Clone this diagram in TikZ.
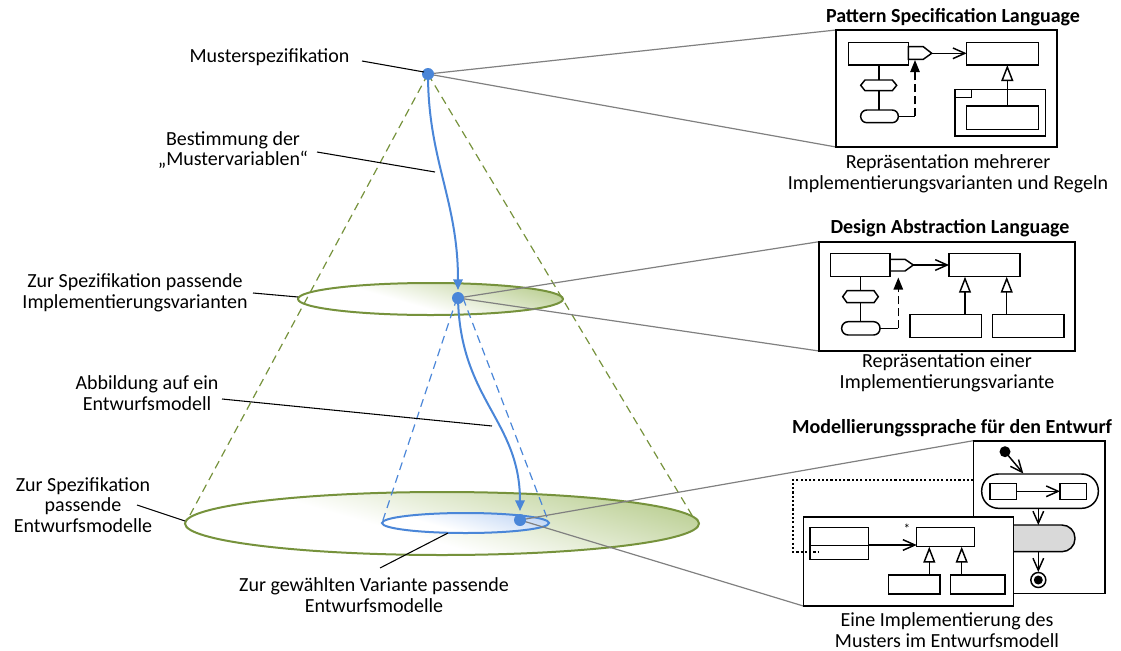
\documentclass[tikz,border=0pt]{standalone}
\usepackage{fontspec}
\setmainfont{Carlito}
\usetikzlibrary{arrows.meta}
\definecolor{dotblue}{RGB}{74,134,216}
\definecolor{paleblue}{RGB}{196,216,245}
\definecolor{olive}{RGB}{118,146,60}
\definecolor{leaf}{RGB}{190,209,152}
\definecolor{linkgrey}{RGB}{128,128,128}
\definecolor{actgrey}{RGB}{217,217,217}
% soft fill of the discs: white towards the lower left, tinted towards the upper right
\pgfdeclareverticalshading{discshade}{100bp}{%
  color(0bp)=(white); color(44bp)=(white); color(74bp)=(leaf); color(100bp)=(leaf)}
\pgfdeclareverticalshading{subshade}{100bp}{%
  color(0bp)=(white); color(40bp)=(white); color(74bp)=(paleblue); color(100bp)=(paleblue)}
\begin{document}
\begin{tikzpicture}[x=0.75pt,y=-0.75pt,
  lbl/.style={font=\fontsize{15}{15.5}\selectfont, align=center, inner sep=0pt},
  ttl/.style={font=\fontsize{15}{15.5}\selectfont\bfseries, inner sep=0pt},
  pointer/.style={black, line width=0.8pt},
  zoomline/.style={linkgrey, line width=0.9pt},
  conedash/.style={olive, line width=0.9pt, dash pattern=on 6pt off 4pt},
  bluedash/.style={dotblue, line width=0.9pt, dash pattern=on 6pt off 4pt},
  flow/.style={dotblue, line width=1.5pt, -{Triangle[length=8pt,width=7pt]}},
  bluedot/.style={fill=dotblue},
  frame/.style={black, line width=1.2pt, fill=white},
  uml/.style={black, line width=1.1pt},
  nav/.style={uml, -{Straight Barb[length=9pt,width=8pt]}},
  inherit/.style={uml, -{Triangle[open,length=12pt,width=9pt,fill=white]}},
  depend/.style={uml, dash pattern=on 6pt off 3pt, -{Triangle[length=9pt,width=7pt]}},
  disc/.style={shading=discshade, shading angle=-16, draw=olive, line width=1.5pt},
]
\useasboundingbox (0,0) rectangle (1121,650);

% key points of the cone
\coordinate (apex) at (428,74);
\coordinate (mid) at (458,298);
\coordinate (low) at (520,520);
\coordinate (coneL) at (190,515);
\coordinate (coneR) at (693,517);

% discs of the cone
\shadedraw[disc] (442,523.5) ellipse [x radius=257, y radius=31.5];
\shadedraw[disc] (430.5,299) ellipse [x radius=132.5, y radius=16];

% outer cone
\draw[conedash] (apex) -- (coneL);
\draw[conedash] (apex) -- (coneR);

% inner cone
\coordinate (subL) at (382,523);
\coordinate (subR) at (549,523);
\draw[bluedash] (457,298) -- (subL);
\draw[bluedash] (463,298) -- (subR);
\shadedraw[shading=subshade, shading angle=-16, draw=dotblue, line width=1.5pt]
  (465.5,523) ellipse [x radius=83.5, y radius=10];

% refinement paths
\draw[flow] (apex) .. controls (428,160) and (458,200) .. (458,290);
\draw[flow] (mid) .. controls (460,400) and (520,420) .. (520,511);

% zoom links to the three panels
\coordinate (p1tl) at (836,30);   \coordinate (p1bl) at (836,147);
\coordinate (p2tl) at (819,241.7); \coordinate (p2bl) at (819,351);
\coordinate (p3tl) at (973.3,440.7); \coordinate (p3bl) at (803.3,606);
\draw[zoomline] (apex) -- (p1tl);
\draw[zoomline] (apex) -- (p1bl);
\draw[zoomline] (mid) -- (p2tl);
\draw[zoomline] (mid) -- (p2bl);
\draw[zoomline] (low) -- (p3tl);
\draw[zoomline] (low) -- (p3bl);

\fill[bluedot] (apex) circle [radius=6];
\fill[bluedot] (mid) circle [radius=6];
\fill[bluedot] (low) circle [radius=6];

% labels on the left
\node[lbl] (tMs) at (269.5,57) {Musterspezifikation};
\node[lbl] (tBm) at (233,150) {Bestimmung der\\„Mustervariablen“};
\node[lbl] (tZi) at (135,293) {Zur Spezifikation passende\\Implementierungsvarianten};
\node[lbl] (tAb) at (147,393) {Abbildung auf ein\\Entwurfsmodell};
\node[lbl] (tZe) at (83,505) {Zur Spezifikation\\passende\\Entwurfsmodelle};
\node[lbl] (tZg) at (374,595) {Zur gewählten Variante passende\\Entwurfsmodelle};

\coordinate (aMs) at (362,61);  \coordinate (bMs) at (424,72);
\coordinate (aBm) at (317,152); \coordinate (bBm) at (435,172);
\coordinate (aZi) at (253,293); \coordinate (bZi) at (298,297);
\coordinate (aAb) at (222,399); \coordinate (bAb) at (492,426);
\coordinate (aZe) at (137,505); \coordinate (bZe) at (185,521);
\coordinate (aZg) at (380,568); \coordinate (bZg) at (448,533);
\draw[pointer] (aMs) -- (bMs);
\draw[pointer] (aBm) -- (bBm);
\draw[pointer] (aZi) -- (bZi);
\draw[pointer] (aAb) -- (bAb);
\draw[pointer] (aZe) -- (bZe);
\draw[pointer] (aZg) -- (bZg);

% ---------- panel 1: Pattern Specification Language ----------
\node[ttl] (h1) at (953,17) {Pattern Specification Language};
\draw[frame] (p1tl) rectangle (1057,147);
\draw[uml] (848.3,42.7) rectangle (908.3,65);
\draw[uml] (908.3,46.7) -- (923.3,46.7) -- (931.7,53.3) -- (923.3,59.3) -- (908.3,59.3) -- cycle;
\draw[uml] (966.7,42.7) rectangle (1038.3,65);
\coordinate (p1port) at (931.7,53.3); \coordinate (p1B) at (966.7,53.3);
\draw[nav] (p1port) -- (p1B);
\draw[uml] (879,65) -- (879,80);
\draw[uml] (860.7,85.3) -- (865,80) -- (892.3,80) -- (896.7,85.3) -- (892.3,90.7) -- (865,90.7) -- cycle;
\draw[uml] (879,90.7) -- (879,110);
\draw[uml, rounded corners=4.6pt] (860.7,110) rectangle (898.3,122.7);
\coordinate (p1s) at (898.3,116.3); \coordinate (p1k) at (915,116.3); \coordinate (p1t) at (915,60);
\draw[uml] (p1s) -- (p1k);
\draw[depend] (p1k) -- (p1t);
\draw[uml] (955,89.3) rectangle (1045.7,136);
\draw[uml] (955,89.3) rectangle (971.7,97.7);
\draw[uml] (966.7,106) rectangle (1038.3,129.3);
\coordinate (p1ia) at (1007.3,106); \coordinate (p1ib) at (1007.3,65);
\draw[inherit] (p1ia) -- (p1ib);
\node[lbl] (c1) at (948,174) {Repräsentation mehrerer\\Implementierungsvarianten und Regeln};

% ---------- panel 2: Design Abstraction Language ----------
\node[ttl] (h2) at (950,228) {Design Abstraction Language};
\draw[frame] (p2tl) rectangle (1075,351);
\draw[uml] (830.7,253.3) rectangle (890,276.7);
\draw[uml] (890,259.3) -- (905,259.3) -- (913.3,265) -- (905,271) -- (890,271) -- cycle;
\draw[uml] (949,253.3) rectangle (1020,276.7);
\coordinate (p2port) at (913.3,265); \coordinate (p2B) at (949,265);
\draw[nav] (p2port) -- (p2B);
\draw[uml] (860.7,276.7) -- (860.7,290.7);
\draw[uml] (842.7,296.7) -- (847,290.7) -- (874,290.7) -- (878.3,296.7) -- (874,302.7) -- (847,302.7) -- cycle;
\draw[uml] (860.7,302.7) -- (860.7,321.7);
\draw[uml, rounded corners=4.8pt] (841.7,321.7) rectangle (880,335);
\coordinate (p2s) at (880,328.3); \coordinate (p2k) at (898.3,328.3); \coordinate (p2t) at (898.3,277.5);
\draw[uml] (p2s) -- (p2k);
\draw[depend] (p2k) -- (p2t);
\draw[uml] (910,314.3) rectangle (981.7,337.7);
\draw[uml] (992.3,314.3) rectangle (1064,337.7);
\coordinate (p2ia) at (965,314.3); \coordinate (p2ib) at (965,276.7);
\coordinate (p2ja) at (1006.7,314.3); \coordinate (p2jb) at (1006.7,276.7);
\draw[inherit] (p2ia) -- (p2ib);
\draw[inherit] (p2ja) -- (p2jb);
\node[lbl] (c2) at (947,373) {Repräsentation einer\\Implementierungsvariante};

% ---------- panel 3: Modellierungssprache für den Entwurf ----------
\node[ttl] (h3) at (952,428) {Modellierungssprache für den Entwurf};
% activity diagram
\draw[frame] (p3tl) rectangle (1105,593.3);
\coordinate (ini) at (1005,451.7);
\fill (ini) circle [radius=5.5];
\coordinate (supIn) at (1023.3,473.5);
\draw[nav] (ini) -- (supIn);
\draw[uml, rounded corners=12.5pt] (981.7,474) rectangle (1098.3,508.3);
\draw[uml] (990,483.3) rectangle (1016.7,499.3);
\draw[uml] (1060,483.3) rectangle (1086.7,499.3);
\coordinate (sA) at (1016.7,491.3); \coordinate (sB) at (1060,491.3);
\draw[nav] (sA) -- (sB);
\coordinate (supOut) at (1038.3,508.3); \coordinate (actIn) at (1038.3,525);
\draw[nav] (supOut) -- (actIn);
\draw[uml, fill=actgrey, rounded corners=9.8pt] (990,525) rectangle (1075,551.7);
\coordinate (actOut) at (1038.3,551.7); \coordinate (finIn) at (1038.3,572);
\draw[nav] (actOut) -- (finIn);
\coordinate (fin) at (1038.3,580);
\draw[uml, fill=white] (fin) circle [radius=7.5];
\fill (fin) circle [radius=4.5];
% class diagram
\draw[frame] (803.3,516.7) rectangle (1013.3,606);
\draw[uml] (810,527.3) rectangle (868.3,559.3);
\draw[uml] (810,545.5) -- (868.3,545.5);
\draw[uml] (916.7,527.3) rectangle (974.3,546.7);
\coordinate (cA) at (868.3,545); \coordinate (cB) at (916.7,545);
\draw[nav] (cA) -- (cB);
\node[font=\fontsize{10}{10}\selectfont, inner sep=0pt] (star) at (907,529) {*};
\draw[uml] (888.3,575) rectangle (940,594);
\draw[uml] (950.7,575) rectangle (1005,594);
\coordinate (c1a) at (929.3,575); \coordinate (c1b) at (929.3,546.7);
\coordinate (c2a) at (961.7,575); \coordinate (c2b) at (961.7,546.7);
\draw[inherit] (c1a) -- (c1b);
\draw[inherit] (c2a) -- (c2b);
% trace between the two diagrams
\coordinate (trA) at (973.3,480); \coordinate (trB) at (792.7,480);
\coordinate (trC) at (792.7,551.7); \coordinate (trD) at (818.3,551.7);
\draw[black, line width=1.2pt, dash pattern=on 1.6pt off 1.6pt] (trA) -- (trB) -- (trC) -- (trD);
\node[lbl] (c3) at (947,630) {Eine Implementierung des\\Musters im Entwurfsmodell};
\end{tikzpicture}
\end{document}
